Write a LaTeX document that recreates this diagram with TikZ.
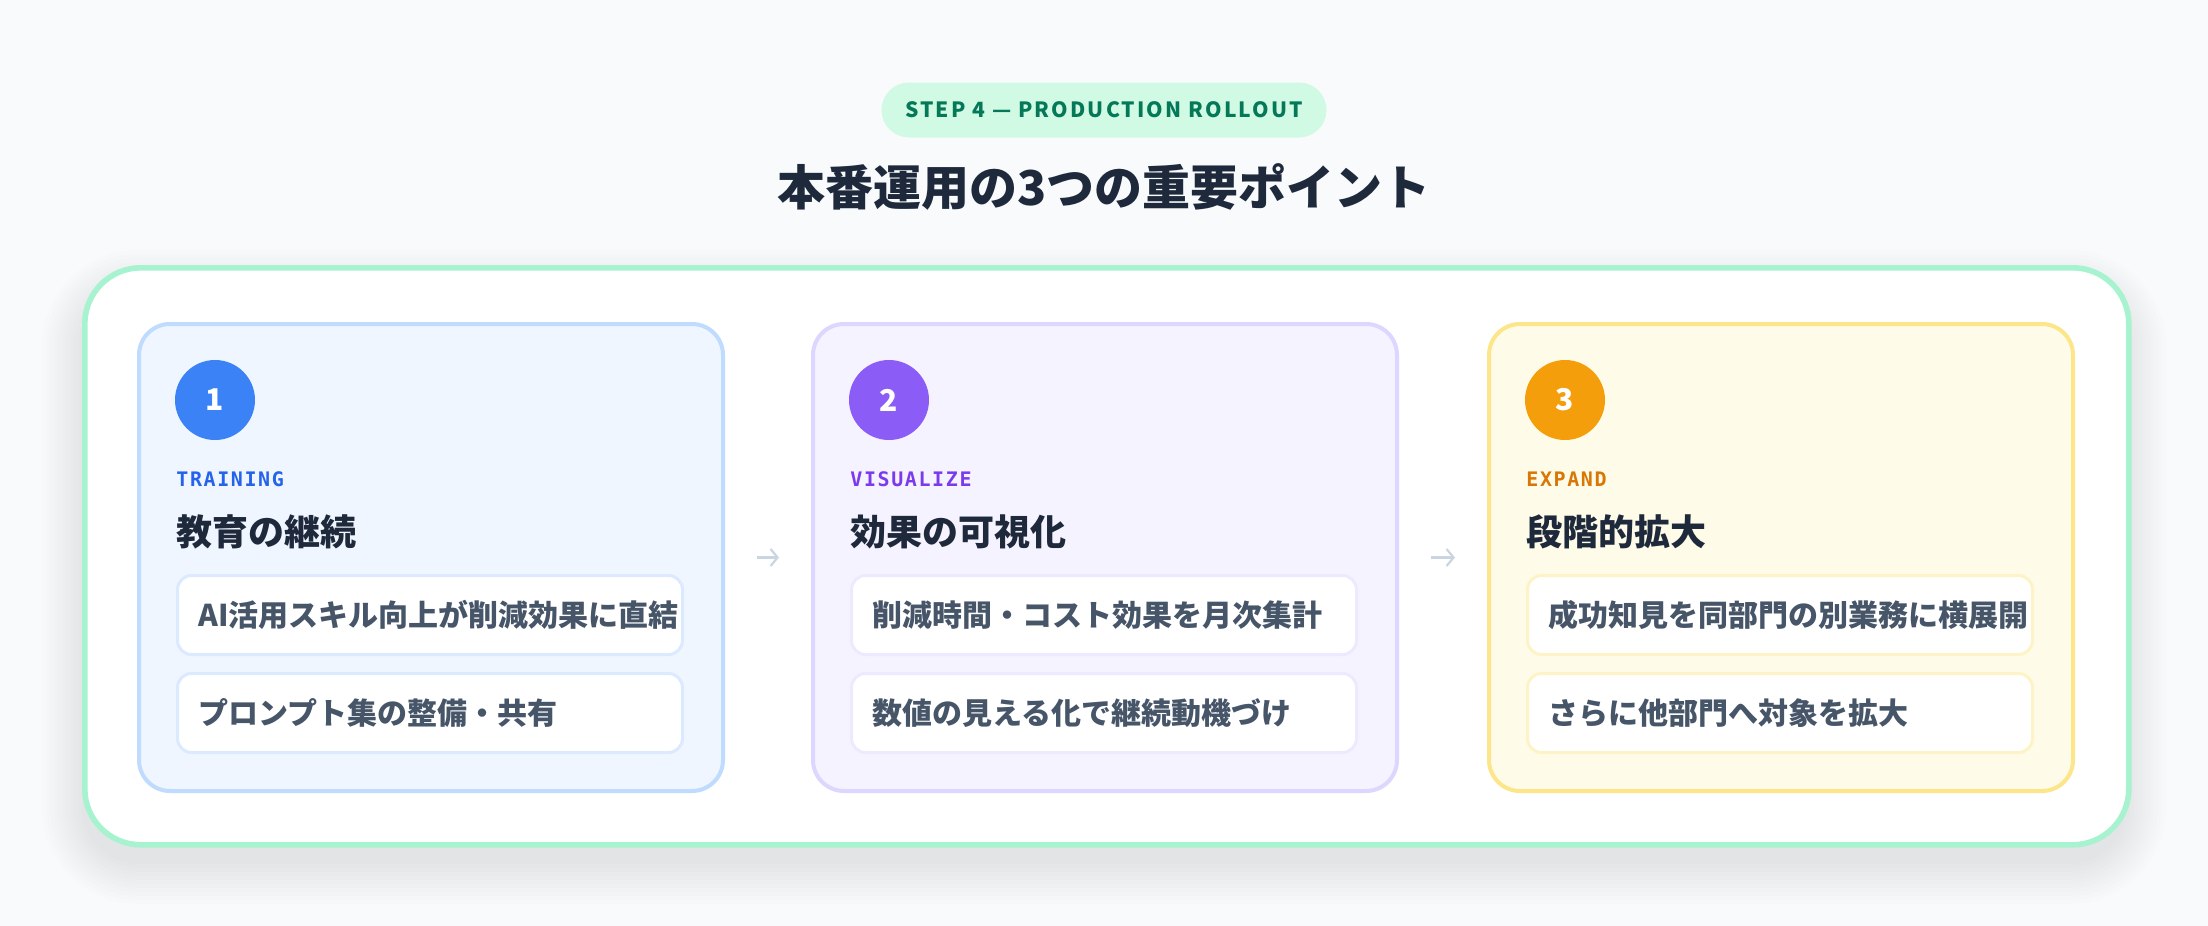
\documentclass[tikz,border=0pt]{standalone}
\usepackage{fontspec}
\setmainfont{Noto Sans CJK JP}
\newfontfamily\spacedfont{Noto Sans CJK JP}[LetterSpace=10]
\newfontfamily\labelfont{DejaVu Sans Mono}[LetterSpace=8]
\usetikzlibrary{arrows.meta}
\definecolor{bg}{HTML}{F8FAFC}
\definecolor{pillbg}{HTML}{D1FAE5}
\definecolor{pillfg}{HTML}{047857}
\definecolor{titlefg}{HTML}{1E293B}
\definecolor{panelborder}{HTML}{A7F3D0}
\definecolor{itemfg}{HTML}{475569}
\definecolor{arrowc}{HTML}{CBD5E1}
\definecolor{shadowc}{HTML}{0F172A}
\definecolor{bluefill}{HTML}{EFF6FF}
\definecolor{blueborder}{HTML}{BFDBFE}
\definecolor{bluedot}{HTML}{3B82F6}
\definecolor{bluelabel}{HTML}{2563EB}
\definecolor{blueitem}{HTML}{DBEAFE}
\definecolor{purplefill}{HTML}{F5F3FF}
\definecolor{purpleborder}{HTML}{DDD6FE}
\definecolor{purpledot}{HTML}{8B5CF6}
\definecolor{purplelabel}{HTML}{7C3AED}
\definecolor{purpleitem}{HTML}{EDE9FE}
\definecolor{amberfill}{HTML}{FEFCE8}
\definecolor{amberborder}{HTML}{FDE68A}
\definecolor{amberdot}{HTML}{F59E0B}
\definecolor{amberlabel}{HTML}{D97706}
\definecolor{amberitem}{HTML}{FEF3C7}
\begin{document}
\begin{tikzpicture}[x=0.5pt,y=-0.5pt,
  pillbox/.style={fill=pillbg, rounded corners=13.75pt, minimum width=222.5pt, minimum height=27.5pt,
    inner sep=0pt, text=pillfg, font=\spacedfont\bfseries\fontsize{10.5}{12}\selectfont},
  titletext/.style={text=titlefg, font=\bfseries\fontsize{24}{28}\selectfont, inner sep=0pt},
  panel/.style={anchor=north west, fill=white, draw=panelborder, line width=2.8pt, rounded corners=28pt,
    minimum width=1022pt, minimum height=288.5pt, inner sep=0pt},
  shadowlayer/.style={fill=shadowc, fill opacity=0.0075},
  card/.style={anchor=north west, line width=2pt, rounded corners=15.5pt,
    minimum width=292pt, minimum height=233.5pt, inner sep=0pt},
  dot/.style={circle, minimum size=40pt, inner sep=0pt, text=white, font=\bfseries\fontsize{15}{16}\selectfont},
  labeltext/.style={anchor=west, inner sep=0pt, font=\labelfont\bfseries\fontsize{10}{12}\selectfont},
  headtext/.style={anchor=west, inner sep=0pt, text=titlefg, font=\bfseries\fontsize{18}{20}\selectfont},
  itembox/.style={anchor=north west, fill=white, line width=1.5pt, rounded corners=7pt,
    minimum height=39.5pt, inner xsep=10.5pt, inner ysep=0pt, text width=231.5pt, align=left,
    text=itemfg, font=\bfseries\fontsize{15}{17}\selectfont},
  flowarrow/.style={draw=arrowc, line width=1.1pt, -{Straight Barb[length=3.5pt,width=8.5pt]},
    shorten <=16pt, shorten >=16pt}
]
\fill[bg] (0,0) rectangle (2208,926);
\useasboundingbox (0,0) rectangle (2208,926);

\node[pillbox] (pill) at (1104,110) {STEP 4 — PRODUCTION ROLLOUT};
\node[titletext] (title) at (1104,187) {本番運用の3つの重要ポイント};

% soft shadow under the panel
\foreach \k [evaluate=\k as \r using 28+\k/2] in {0,4,...,40}
  \fill[shadowlayer, rounded corners=\r pt] (82-\k,290-\k) rectangle (2126+\k,864+\k);

\node[panel] (panel) at (82,265) {};

% card 1
\node[card, fill=bluefill, draw=blueborder] (c1) at (137,322) {};
\node[dot, fill=bluedot] (d1) at (215,400) {1};
\node[labeltext, text=bluelabel] (l1) at (176,479) {TRAINING};
\node[headtext] (h1) at (176,532) {教育の継続};
\node[itembox, draw=blueitem] (i1a) at (176,574) {AI活用スキル向上が削減効果に直結};
\node[itembox, draw=blueitem] (i1b) at (176,672) {プロンプト集の整備・共有};

% card 2
\node[card, fill=purplefill, draw=purpleborder] (c2) at (811,322) {};
\node[dot, fill=purpledot] (d2) at (889,400) {2};
\node[labeltext, text=purplelabel] (l2) at (850,479) {VISUALIZE};
\node[headtext] (h2) at (850,532) {効果の可視化};
\node[itembox, draw=purpleitem] (i2a) at (850,574) {削減時間・コスト効果を月次集計};
\node[itembox, draw=purpleitem] (i2b) at (850,672) {数値の見える化で継続動機づけ};

% card 3
\node[card, fill=amberfill, draw=amberborder] (c3) at (1487,322) {};
\node[dot, fill=amberdot] (d3) at (1565,400) {3};
\node[labeltext, text=amberlabel] (l3) at (1526,479) {EXPAND};
\node[headtext] (h3) at (1526,532) {段階的拡大};
\node[itembox, draw=amberitem] (i3a) at (1526,574) {成功知見を同部門の別業務に横展開};
\node[itembox, draw=amberitem] (i3b) at (1526,672) {さらに他部門へ対象を拡大};

\draw[flowarrow] (c1.east) -- (c2.west);
\draw[flowarrow] (c2.east) -- (c3.west);
\end{tikzpicture}
\end{document}
